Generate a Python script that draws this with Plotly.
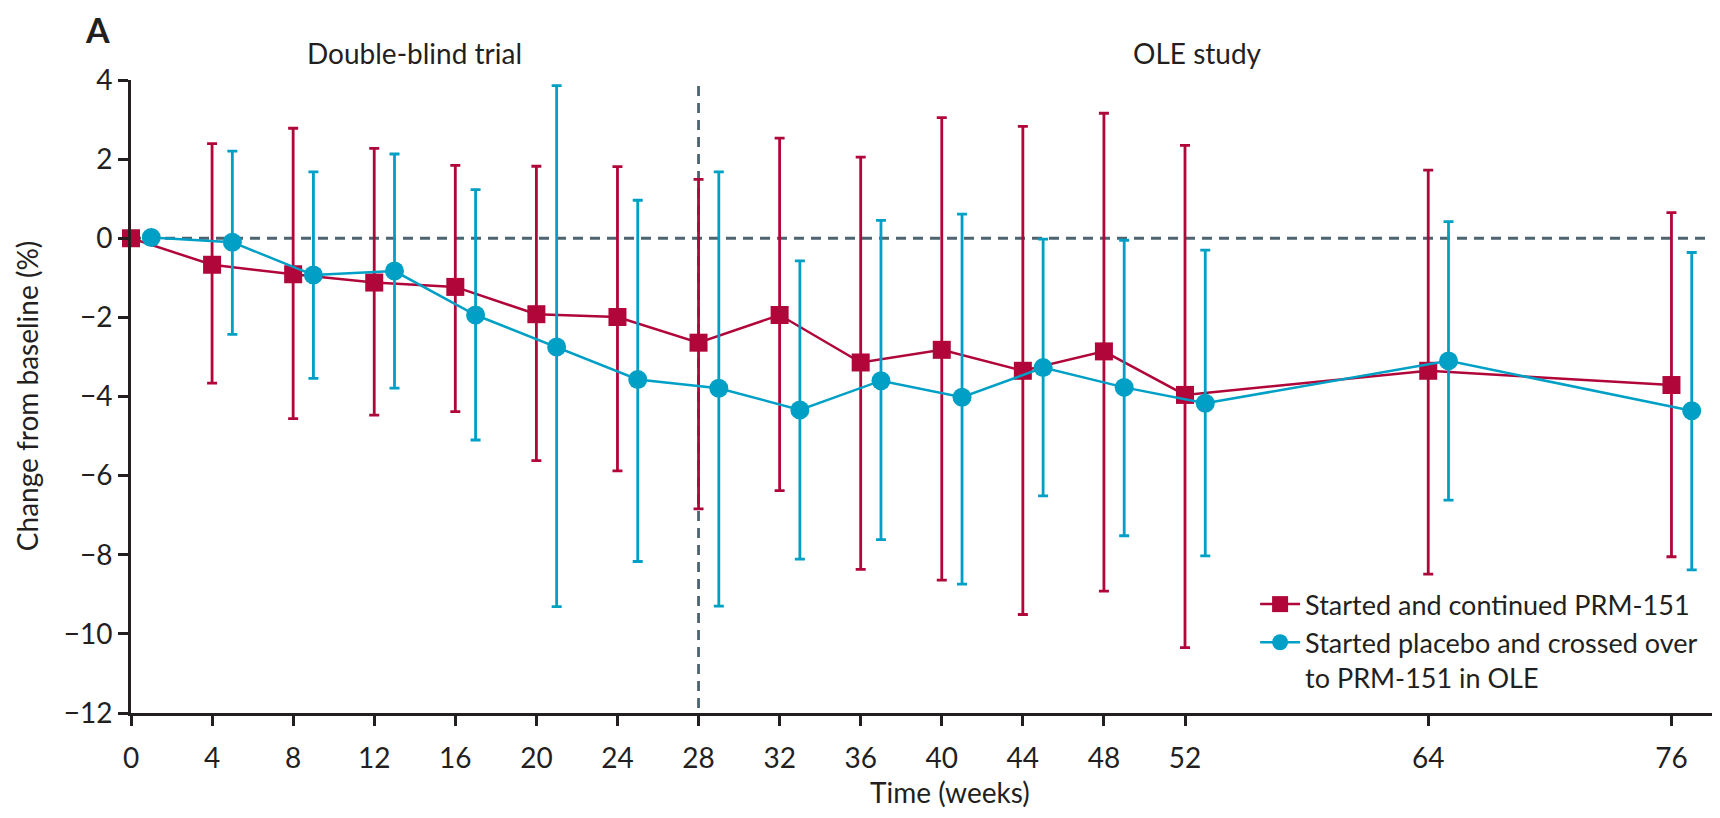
import plotly.graph_objects as go

# Weeks at which each group was assessed
weeks_prm = [0, 4, 8, 12, 16, 20, 24, 28, 32, 36, 40, 44, 48, 52, 64, 76]
weeks_pbo = [1, 5, 9, 13, 17, 21, 25, 29, 33, 37, 41, 45, 49, 53, 65, 77]

# Started and continued PRM-151: mean change and interval bounds
prm_mean = [0.0, -0.67, -0.91, -1.12, -1.23, -1.92, -1.99, -2.64, -1.94, -3.14, -2.82, -3.35, -2.86, -3.96, -3.35, -3.71]
prm_upper = [0.0, 2.39, 2.78, 2.27, 1.84, 1.82, 1.81, 1.49, 2.53, 2.05, 3.05, 2.83, 3.16, 2.35, 1.72, 0.65]
prm_lower = [0.0, -3.66, -4.56, -4.47, -4.38, -5.62, -5.88, -6.84, -6.38, -8.37, -8.64, -9.51, -8.92, -10.35, -8.49, -8.05]

# Started placebo, crossed over to PRM-151 in OLE
pbo_mean = [0.02, -0.10, -0.93, -0.83, -1.94, -2.75, -3.57, -3.79, -4.34, -3.60, -4.02, -3.27, -3.77, -4.17, -3.10, -4.36]
pbo_upper = [0.02, 2.20, 1.68, 2.13, 1.23, 3.86, 0.96, 1.68, -0.57, 0.45, 0.61, -0.02, -0.05, -0.30, 0.42, -0.36]
pbo_lower = [0.02, -2.43, -3.54, -3.79, -5.10, -9.31, -8.17, -9.30, -8.11, -7.62, -8.74, -6.51, -7.52, -8.03, -6.62, -8.38]

x_ticks = [0, 4, 8, 12, 16, 20, 24, 28, 32, 36, 40, 44, 48, 52, 64, 76]
y_ticks = [4, 2, 0, -2, -4, -6, -8, -10, -12]

baseline = 0
switch_week = 28
switch_line_top = 3.85

RED = "#b1063a"
BLUE = "#00a0c6"
DASH = "#4d6470"
INK = "#231f20"
FONT = "Lato"
FS = 28


def err(mean, upper, lower):
    plus = [u - m for m, u in zip(mean, upper)]
    minus = [m - l for m, l in zip(mean, lower)]
    return plus, minus


prm_plus, prm_minus = err(prm_mean, prm_upper, prm_lower)
pbo_plus, pbo_minus = err(pbo_mean, pbo_upper, pbo_lower)

fig = go.Figure()

fig.add_trace(go.Scatter(
    x=weeks_prm, y=prm_mean, mode="lines+markers",
    name="Started and continued PRM-151",
    line=dict(color=RED, width=2.5),
    marker=dict(symbol="square", size=18, color=RED),
    error_y=dict(type="data", symmetric=False, array=prm_plus, arrayminus=prm_minus,
                 color=RED, thickness=2.8, width=5),
    cliponaxis=False,
))

fig.add_trace(go.Scatter(
    x=weeks_pbo, y=pbo_mean, mode="lines+markers",
    name="Started placebo and crossed over<br>to PRM-151 in OLE",
    line=dict(color=BLUE, width=2.5),
    marker=dict(symbol="circle", size=19, color=BLUE),
    error_y=dict(type="data", symmetric=False, array=pbo_plus, arrayminus=pbo_minus,
                 color=BLUE, thickness=2.8, width=5),
    cliponaxis=False,
))

# Reference lines: no change from baseline, and end of the double-blind period
dash_style = dict(color=DASH, width=2.8, dash="10px,7px")
fig.add_shape(type="line", xref="paper", yref="y", x0=0, x1=1, y0=baseline, y1=baseline,
              line=dash_style, layer="below")
fig.add_shape(type="line", xref="x", yref="y", x0=switch_week, x1=switch_week,
              y0=switch_line_top, y1=-12, line=dash_style, layer="below")

label_font = dict(size=FS, color=INK, family=FONT)
fig.add_annotation(text="<b>A</b>", xref="paper", yref="paper", x=-0.021, y=1.08,
                   xanchor="center", yanchor="middle", showarrow=False,
                   font=dict(size=34, color=INK, family=FONT))
fig.add_annotation(text="Double-blind trial", xref="x", yref="paper", x=14, y=1.043,
                   xanchor="center", yanchor="middle", showarrow=False, font=label_font)
fig.add_annotation(text="OLE study", xref="x", yref="paper", x=52.6, y=1.043,
                   xanchor="center", yanchor="middle", showarrow=False, font=label_font)
fig.add_annotation(text="Change from baseline (%)", xref="paper", yref="paper",
                   x=-0.066, y=0.5, textangle=-90, xanchor="center", yanchor="middle",
                   showarrow=False, font=label_font)
fig.add_annotation(text="Time (weeks)", xref="x", yref="paper", x=40.4, y=-0.1248,
                   xanchor="center", yanchor="middle", showarrow=False, font=label_font)

fig.update_layout(
    width=1720, height=818, autosize=False,
    margin=dict(l=131, r=8, t=80, b=105, autoexpand=False),
    paper_bgcolor="white", plot_bgcolor="white",
    font=dict(family=FONT, size=FS, color=INK),
    showlegend=True,
    legend=dict(x=0.711, y=0.21, xanchor="left", yanchor="top",
                bgcolor="rgba(255,255,255,0)",
                font=dict(size=27, color=INK, family=FONT),
                valign="top", tracegroupgap=0, itemwidth=40),
    xaxis=dict(range=[0, 78], tickvals=x_ticks, ticktext=[str(t) for t in x_ticks],
               showgrid=False, zeroline=False, showline=True, linecolor=INK, linewidth=3,
               ticks="outside", ticklen=10, tickwidth=3, tickcolor=INK,
               ticklabelstandoff=8, tickfont=label_font),
    yaxis=dict(range=[-12, 4], tickvals=y_ticks,
               showgrid=False, zeroline=False, showline=True, linecolor=INK, linewidth=3,
               ticks="outside", ticklen=10, tickwidth=3, tickcolor=INK,
               tickfont=label_font),
)

fig.write_html("out.html")
